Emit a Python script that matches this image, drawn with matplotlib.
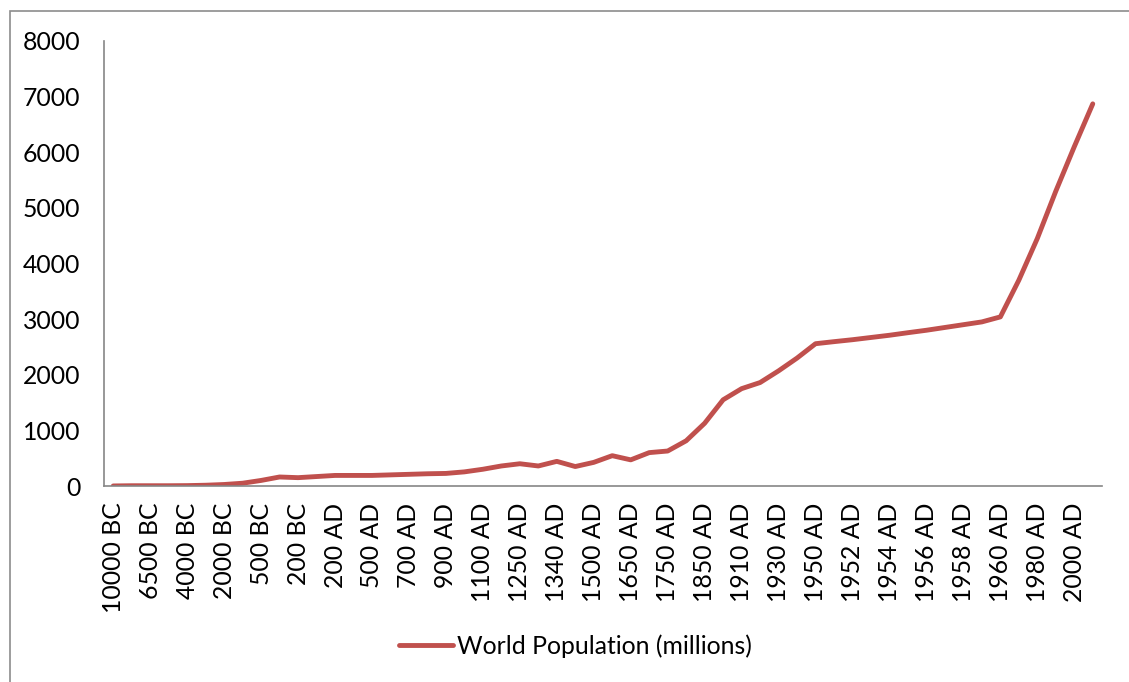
import matplotlib.pyplot as plt
from matplotlib.patches import Rectangle

# periods (every other one is labelled on the axis)
periods = ['10000 BC', '8000 BC', '6500 BC', '5000 BC', '4000 BC', '3000 BC',
           '2000 BC', '1000 BC', '500 BC', '400 BC', '200 BC', '1 AD',
           '200 AD', '400 AD', '500 AD', '600 AD', '700 AD', '800 AD',
           '900 AD', '1000 AD', '1100 AD', '1200 AD', '1250 AD', '1300 AD',
           '1340 AD', '1400 AD', '1500 AD', '1600 AD', '1650 AD', '1700 AD',
           '1750 AD', '1800 AD', '1850 AD', '1900 AD', '1910 AD', '1920 AD',
           '1930 AD', '1940 AD', '1950 AD', '1951 AD', '1952 AD', '1953 AD',
           '1954 AD', '1955 AD', '1956 AD', '1957 AD', '1958 AD', '1959 AD',
           '1960 AD', '1970 AD', '1980 AD', '1990 AD', '2000 AD', '2010 AD']

population = [1, 5, 5, 5, 7, 14, 27, 50, 100, 162, 150, 170,
              190, 190, 190, 200, 210, 220, 226, 254, 301, 360, 400, 360,
              443, 350, 425, 545, 470, 600, 629, 813, 1128, 1550, 1750, 1860,
              2070, 2300, 2558, 2595, 2630, 2670, 2710, 2756, 2800, 2850, 2900, 2950,
              3040, 3700, 4450, 5300, 6100, 6870]

plt.rcParams['font.family'] = ['Lato', 'DejaVu Sans']
FS = 17.8

W, H = 1129, 682
fig = plt.figure(figsize=(W / 100, H / 100), dpi=100)

# outer chart border (runs off the right and bottom edge)
fig.patches.append(Rectangle((9.5 / W, 0 - 0.05), 1.2, 1 - 10.5 / H + 0.05,
                             transform=fig.transFigure, fill=False,
                             edgecolor='#8c8c8c', linewidth=1.2))

ax = fig.add_axes([104 / W, (H - 486) / H, (1102 - 104) / W, (486 - 41) / H])

x = list(range(len(periods)))
ax.plot(x, population, color='#C0504D', linewidth=3.5, solid_capstyle='round',
        solid_joinstyle='round', label='World Population (millions)')

ax.set_xlim(-0.5, len(periods) - 0.5)
ax.set_ylim(0, 8000)
ax.set_yticks(range(0, 8001, 1000))
ax.set_xticks(x[::2])
ax.set_xticklabels(periods[::2], rotation=90, va='top', ha='center')

ax.tick_params(axis='y', length=0, pad=17, labelsize=FS)
ax.tick_params(axis='x', length=0, pad=12, labelsize=FS)

for side in ['top', 'right']:
    ax.spines[side].set_visible(False)
for side in ['left', 'bottom']:
    ax.spines[side].set_color('#868686')
    ax.spines[side].set_linewidth(1.2)

fig.legend(loc='center', bbox_to_anchor=(575 / W, (H - 646) / H),
           frameon=False, fontsize=FS, handlelength=2.2, handletextpad=0.15)

fig.savefig('out.png', dpi=100)
